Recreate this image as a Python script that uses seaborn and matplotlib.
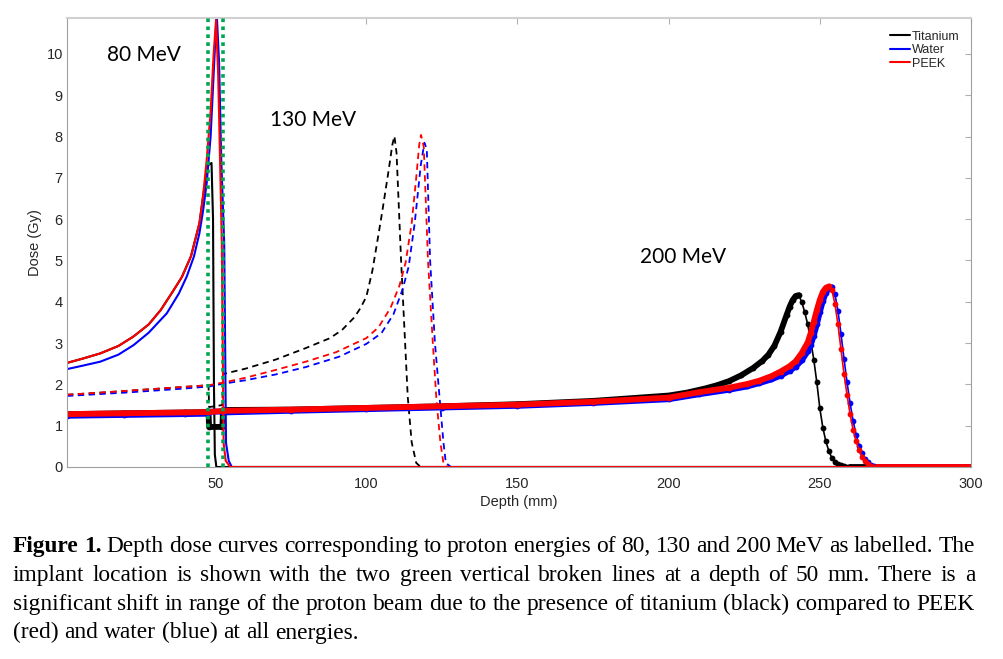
import numpy as np
import pandas as pd
import matplotlib
matplotlib.use("Agg")
import matplotlib.pyplot as plt
import seaborn as sns
from matplotlib.lines import Line2D

# depth (mm), dose (Gy)
# 80 MeV, solid
ti_80 = [(1, 2.52), (6, 2.62), (12, 2.75), (18, 2.93), (23, 3.16), (28, 3.45), (32, 3.8),
         (36, 4.25), (39, 4.6), (42, 5.1), (44.8, 5.9), (46, 6.55), (47.5, 7.3), (48.8, 7.36),
         (49.3, 6.0), (49.6, 2.0), (49.9, 0.3), (50.4, 0.0), (300, 0.0)]
water_80 = [(1, 2.37), (6, 2.45), (12, 2.55), (18, 2.72), (23, 2.95), (28, 3.25), (34, 3.72),
            (38, 4.2), (40.6, 4.61), (43, 5.1), (44.8, 5.66), (46, 6.2), (47.2, 6.87), (48.5, 8.0),
            (49.5, 9.5), (50.5, 11.0), (51.3, 9.8), (52, 7.5), (53, 5.4), (53.6, 0.58),
            (54.5, 0.15), (55.5, 0.0), (300, 0.0)]
peek_80 = [(1, 2.52), (6, 2.62), (12, 2.75), (18, 2.93), (23, 3.16), (28, 3.45), (32, 3.8),
           (36, 4.25), (39, 4.6), (42, 5.1), (44.8, 5.9), (46, 6.55), (47.2, 7.43), (48.5, 8.6),
           (49.5, 10.0), (50.3, 10.82), (51, 9.5), (51.6, 7.5), (52.2, 5.4), (52.8, 0.58),
           (53.5, 0.15), (55, 0.0), (300, 0.0)]

# 130 MeV, dashed
ti_130 = [(1, 1.75), (10, 1.79), (20, 1.84), (30, 1.89), (40, 1.94), (47.8, 1.98), (48, 1.45),
          (52.4, 1.5), (52.6, 2.25), (60, 2.38), (70, 2.6), (80, 2.88), (88, 3.12), (92, 3.32),
          (96, 3.62), (98, 3.84), (100, 4.12), (102, 4.75), (103.5, 5.4), (105.2, 6.15),
          (107.4, 7.19), (108.6, 7.8), (109.3, 8.01), (110, 7.6), (111.5, 5.0), (113.7, 1.7),
          (115, 0.6), (116.5, 0.1), (118, 0.0), (300, 0.0)]
water_130 = [(1, 1.72), (20, 1.8), (40, 1.9), (48, 1.95), (53, 2.02), (60, 2.1), (70, 2.24),
             (80, 2.42), (91, 2.67), (100, 2.98), (105, 3.24), (109, 3.7), (112, 4.3), (114, 4.85),
             (116, 5.9), (118, 7.3), (119.2, 7.85), (120, 7.7), (121.1, 5.0), (122.7, 3.0),
             (124.3, 1.62), (125.5, 0.6), (126.3, 0.1), (128, 0.0), (300, 0.0)]
peek_130 = [(1, 1.75), (10, 1.79), (20, 1.84), (30, 1.89), (40, 1.94), (48, 1.98), (53, 2.05),
            (60, 2.16), (70, 2.35), (80, 2.55), (90, 2.78), (95, 2.95), (100, 3.12), (104, 3.38),
            (108, 3.85), (111, 4.4), (113, 4.95), (115, 5.9), (116.5, 7.0), (117.5, 7.8),
            (118.1, 8.04), (119, 7.75), (120.4, 5.0), (122, 3.0), (123.2, 1.62), (124.5, 0.6),
            (125.5, 0.1), (127, 0.0), (300, 0.0)]

# 200 MeV, markers
ti_200 = [(1, 1.28), (20, 1.30), (40, 1.32), (47.8, 1.33), (48, 0.97), (52.4, 0.97), (52.6, 1.38),
          (75, 1.39), (100, 1.43), (125, 1.47), (150, 1.52), (175, 1.60), (200, 1.73), (206, 1.80),
          (212, 1.90), (216, 1.98), (220, 2.08), (224, 2.22), (228, 2.40), (231, 2.57), (233, 2.72),
          (235, 2.94), (237, 3.27), (239, 3.68), (240, 3.88), (241, 4.04), (242, 4.14), (243, 4.16),
          (244, 4.00), (245, 3.75), (246, 3.45), (247, 3.05), (248, 2.60), (249, 2.05), (250, 1.42),
          (251, 0.95), (252, 0.62), (253, 0.38), (254, 0.22), (255, 0.12), (256, 0.07), (257, 0.04),
          (258, 0.02), (259, 0.01), (260, 0.0), (280, 0.0), (300, 0.0)]
water_200 = [(1, 1.24), (20, 1.26), (40, 1.28), (47.8, 1.29), (48, 1.34), (52.4, 1.34), (52.6, 1.32),
             (75, 1.36), (100, 1.40), (125, 1.44), (150, 1.48), (175, 1.55), (200, 1.64), (210, 1.76),
             (220, 1.87), (226, 1.95), (230, 2.03), (234, 2.12), (237, 2.21), (240, 2.33), (242, 2.43),
             (244, 2.58), (246, 2.80), (247, 2.96), (248, 3.18), (249, 3.45), (250, 3.75), (251, 4.02),
             (252, 4.22), (253, 4.33), (254, 4.35), (255, 4.18), (256, 3.78), (257, 3.22), (258, 2.62),
             (259, 2.05), (260, 1.55), (261, 1.12), (262, 0.78), (263, 0.52), (264, 0.33), (265, 0.20),
             (266, 0.11), (267, 0.05), (268, 0.02), (269, 0.01), (270, 0.0), (285, 0.0), (300, 0.0)]
peek_200 = [(1, 1.28), (20, 1.30), (40, 1.32), (47.8, 1.33), (52.6, 1.36), (75, 1.39), (100, 1.43),
            (125, 1.47), (150, 1.51), (175, 1.58), (200, 1.68), (210, 1.81), (220, 1.92), (226, 2.01),
            (230, 2.09), (234, 2.20), (237, 2.31), (240, 2.44), (242, 2.56), (244, 2.76), (246, 3.02),
            (247, 3.25), (248, 3.52), (249, 3.80), (250, 4.05), (251, 4.24), (252, 4.34), (253, 4.37),
            (254, 4.28), (255, 3.95), (256, 3.45), (257, 2.85), (258, 2.25), (259, 1.75), (260, 1.28),
            (261, 0.90), (262, 0.62), (263, 0.40), (264, 0.25), (265, 0.14), (266, 0.07), (267, 0.03),
            (268, 0.01), (269, 0.0), (270, 0.0), (285, 0.0), (300, 0.0)]

materials = ["Titanium", "Water", "PEEK"]
colors = ["black", "#0000ff", "#ff0000"]
implant_edges = [47.8, 52.5]
energy_labels = [("80 MeV", 14.2, 9.98), ("130 MeV", 68.2, 8.4), ("200 MeV", 190.5, 5.08)]

caption_lines = [
    "Figure 1. Depth dose curves corresponding to proton energies of 80, 130 and 200 MeV as labelled. The",
    "implant location is shown with the two green vertical broken lines at a depth of 50 mm. There is a",
    "significant shift in range of the proton beam due to the presence of titanium (black) compared to PEEK",
    "(red) and water (blue) at all energies.",
]


def to_df(pairs):
    return pd.DataFrame(pairs, columns=["depth", "dose"])


sns.set_theme(style="white")
plt.rcParams["font.family"] = ["Liberation Sans", "DejaVu Sans"]

W, H = 1004, 659
fig = plt.figure(figsize=(W / 100, H / 100), dpi=100)
ax = fig.add_axes([67 / W, 1 - 467 / H, 904 / W, 449 / H])

series = zip(colors, [ti_80, water_80, peek_80], [ti_130, water_130, peek_130],
             [ti_200, water_200, peek_200])
for c, s80, s130, s200 in series:
    sns.lineplot(data=to_df(s80), x="depth", y="dose", color=c, linewidth=1.5,
                 sort=False, estimator=None, ax=ax)
    sns.lineplot(data=to_df(s130), x="depth", y="dose", color=c, linewidth=1.3,
                 linestyle=(0, (3.5, 2.5)), sort=False, estimator=None, ax=ax)
    d200 = to_df(s200)
    peak = d200["dose"].idxmax()
    end = d200.index[(d200.index > peak) & (d200["dose"] == 0)][0]
    # slow parts look like a solid thick band (dense markers in original)
    for part in (d200.iloc[:peak + 1], d200.iloc[end:]):
        sns.lineplot(data=part, x="depth", y="dose", color=c, linewidth=4.2,
                     sort=False, estimator=None, ax=ax)
    sns.lineplot(data=d200, x="depth", y="dose", color=c, linewidth=1.2, marker="o",
                 markersize=4.2, markeredgewidth=0, sort=False, estimator=None, ax=ax)

for xe in implant_edges:
    ax.axvline(xe, color="#00a651", linestyle=(0, (1, 1.2)), linewidth=2.6, zorder=10)

for label, x, y in energy_labels:
    ax.text(x, y, label, family="Lato", fontsize=15, ha="left", va="center", color="black")

ax.set_xlim(1, 300)
ax.set_ylim(0, 10.87)
ax.set_xticks([50, 100, 150, 200, 250, 300])
ax.set_yticks(range(0, 11))
ax.set_xlabel("Depth (mm)", fontsize=10.5, color="#262626", labelpad=3)
ax.set_ylabel("Dose (Gy)", fontsize=10.5, color="#262626", labelpad=3)
ax.tick_params(axis="both", direction="in", length=4, width=0.8, color="#b0b0b0",
               labelcolor="#262626", labelsize=10.5, top=True, right=True,
               labeltop=False, labelright=False)
ax.tick_params(axis="x", pad=7)
ax.tick_params(axis="y", pad=3)
for side in ["left", "bottom", "right"]:
    ax.spines[side].set_color("#a0a0a0")
    ax.spines[side].set_linewidth(0.8)
ax.spines["top"].set_color("#d0d0d0")
ax.spines["top"].set_linewidth(1.5)

handles = [Line2D([], [], color=c, linewidth=1.5, label=m) for m, c in zip(materials, colors)]
ax.legend(handles=handles, loc="upper right", bbox_to_anchor=(0.993, 0.983), frameon=False,
          fontsize=9, handlelength=1.6, handletextpad=0.2, labelspacing=0.12, borderaxespad=0)

# justified caption below the chart
cap_size = 16.8
cap_font = dict(family="Liberation Serif", size=cap_size, color="black")
x_left, x_right = 12.7, 975
baselines = [552, 581, 610, 638.5]
renderer = fig.canvas.get_renderer()
for i, (line, base) in enumerate(zip(caption_lines, baselines)):
    words = line.split(" ")
    texts = []
    for j, w in enumerate(words):
        wt = "bold" if (i == 0 and j < 2) else "normal"
        texts.append(fig.text(0, 1 - base / H, w, ha="left", va="baseline", weight=wt, **cap_font))
    widths = [t.get_window_extent(renderer).width for t in texts]
    if i < len(caption_lines) - 1:
        gap = (x_right - x_left - sum(widths)) / (len(words) - 1)
    else:
        gap = 0.25 * cap_size * 100 / 72
    x = x_left
    for t, w in zip(texts, widths):
        t.set_x(x / W)
        x += w + gap

fig.savefig("out.png", dpi=100)
